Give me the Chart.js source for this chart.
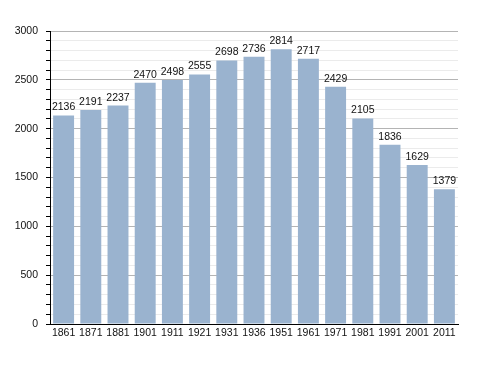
<!DOCTYPE html>
<html>
<head>
<meta charset="utf-8">
<script src="https://cdn.jsdelivr.net/npm/chart.js@4/dist/chart.umd.min.js"></script>
<style>
  html, body { margin: 0; padding: 0; background: #fff; }
  #wrap { width: 488px; height: 373px; }
</style>
</head>
<body>
<div id="wrap"><canvas id="chart" width="488" height="373"></canvas></div>
<script>
// census years and population
const years = ["1861", "1871", "1881", "1901", "1911", "1921", "1931", "1936", "1951", "1961", "1971", "1981", "1991", "2001", "2011"];
const population = [2136, 2191, 2237, 2470, 2498, 2555, 2698, 2736, 2814, 2717, 2429, 2105, 1836, 1629, 1379];
const yMax = 3000;
const yStep = 100;
const yLabelStep = 500;

const FONT = "'Liberation Sans', Arial, sans-serif";

// value labels above each bar
const barLabels = {
  id: "barLabels",
  afterDatasetsDraw(chart) {
    const ctx = chart.ctx;
    const meta = chart.getDatasetMeta(0);
    ctx.save();
    ctx.font = "10.5px " + FONT;
    ctx.fillStyle = "#111";
    ctx.textAlign = "center";
    ctx.textBaseline = "alphabetic";
    meta.data.forEach((bar, i) => {
      ctx.fillText(String(population[i]), bar.x, bar.y - 5);
    });
    ctx.restore();
  }
};

new Chart(document.getElementById("chart").getContext("2d"), {
  type: "bar",
  data: {
    labels: years,
    datasets: [{
      data: population,
      backgroundColor: "#9ab3cf",
      borderWidth: 0,
      barPercentage: 0.77,
      categoryPercentage: 1.0
    }]
  },
  options: {
    responsive: false,
    animation: false,
    layout: { padding: { left: 0, right: 30, top: 31, bottom: 0 } },
    plugins: { legend: { display: false }, tooltip: { enabled: false } },
    scales: {
      x: {
        grid: { display: false, drawTicks: false },
        border: { color: "#000", width: 1 },
        ticks: { color: "#111", font: { family: FONT, size: 10.5 }, padding: 3, maxRotation: 0, autoSkip: false },
        afterFit(scale) { scale.height = 49; }
      },
      y: {
        min: 0,
        max: yMax,
        ticks: {
          stepSize: yStep,
          autoSkip: false,
          color: "#111",
          font: { family: FONT, size: 10.5 },
          padding: 8,
          callback: (v) => (v % yLabelStep === 0 ? String(v) : "")
        },
        grid: {
          color: (c) => (c.tick && c.tick.value % yLabelStep === 0 ? "#b4b4b4" : "#ebebeb"),
          tickColor: "#000",
          tickLength: 4,
          lineWidth: 1
        },
        border: { color: "#000", width: 1 },
        afterFit(scale) { scale.width = 50; }
      }
    }
  },
  plugins: [barLabels]
});
</script>
</body>
</html>
